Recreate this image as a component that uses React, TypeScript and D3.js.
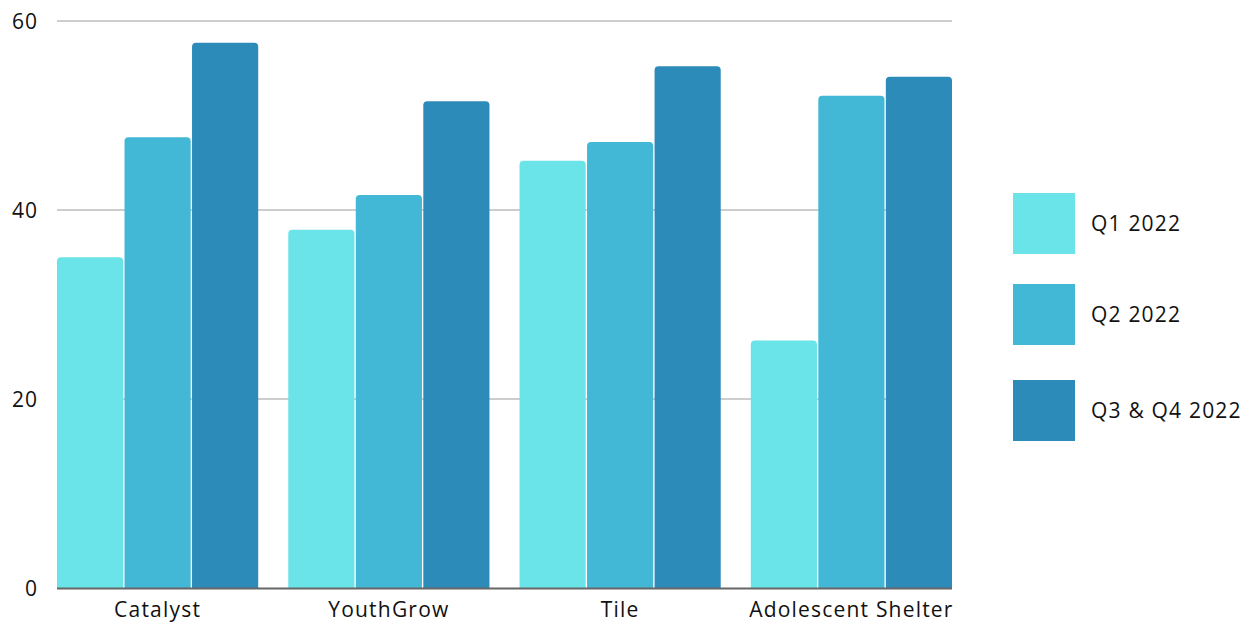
import React, { useRef, useEffect } from 'react';
import * as d3 from 'd3';

const categories = ['Catalyst', 'YouthGrow', 'Tile', 'Adolescent Shelter'];
const seriesNames = ['Q1 2022', 'Q2 2022', 'Q3 & Q4 2022'];
const q1Values = [35, 37.9, 45.2, 26.2];
const q2Values = [47.7, 41.6, 47.2, 52.1];
const q3q4Values = [57.7, 51.5, 55.2, 54.1];
const colors = ['#6ae4e8', '#42b7d6', '#2d8bb9'];
const yTicks = [0, 20, 40, 60];

const W = 1254;
const H = 623;

const App = () => {
  const ref = useRef<SVGSVGElement>(null);

  useEffect(() => {
    const svg = d3.select(ref.current);
    svg.selectAll('*').remove();

    const left = 57, right = 952, top = 21, bottom = 588;
    const series = [q1Values, q2Values, q3q4Values];

    const x0 = d3.scaleBand().domain(categories).range([left, right]).paddingInner(0.13).paddingOuter(0);
    const x1 = d3.scaleBand().domain(seriesNames).range([0, x0.bandwidth()]).paddingInner(0.02);
    const y = d3.scaleLinear().domain([0, 60]).range([bottom, top]);

    // grid
    svg.append('g')
      .selectAll('line')
      .data(yTicks.filter(t => t > 0))
      .join('line')
      .attr('x1', left).attr('x2', right)
      .attr('y1', d => y(d)).attr('y2', d => y(d))
      .attr('stroke', '#bdbdbd').attr('stroke-width', 1.5);

    svg.append('g')
      .selectAll('text')
      .data(yTicks)
      .join('text')
      .attr('x', 38).attr('y', d => y(d))
      .attr('dy', '0.36em')
      .attr('text-anchor', 'end')
      .attr('font-family', '"Open Sans", sans-serif')
      .attr('font-size', 21)
      .attr('letter-spacing', 1)
      .attr('fill', '#111')
      .text(d => d);

    const r = 4;
    const barPath = (x: number, yt: number, w: number, yb: number) => {
      const rr = Math.min(r, (yb - yt) / 2);
      return `M${x},${yb}V${yt + rr}Q${x},${yt} ${x + rr},${yt}H${x + w - rr}Q${x + w},${yt} ${x + w},${yt + rr}V${yb}Z`;
    };

    categories.forEach((cat, ci) => {
      seriesNames.forEach((s, si) => {
        const bx = (x0(cat) as number) + (x1(s) as number);
        svg.append('path')
          .attr('d', barPath(bx, y(series[si][ci]), x1.bandwidth(), bottom))
          .attr('fill', colors[si]);
      });
    });

    // baseline
    svg.append('line')
      .attr('x1', left).attr('x2', right)
      .attr('y1', bottom + 0.5).attr('y2', bottom + 0.5)
      .attr('stroke', '#666').attr('stroke-width', 2);

    svg.append('g')
      .selectAll('text')
      .data(categories)
      .join('text')
      .attr('x', d => (x0(d) as number) + x0.bandwidth() / 2)
      .attr('y', 617)
      .attr('text-anchor', 'middle')
      .attr('font-family', '"Open Sans", sans-serif')
      .attr('font-size', 21)
      .attr('letter-spacing', 1.2)
      .attr('fill', '#111')
      .text(d => d);

    // legend
    const legendY = [193, 284, 380];
    const lg = svg.append('g');
    seriesNames.forEach((s, i) => {
      lg.append('rect')
        .attr('x', 1013).attr('y', legendY[i])
        .attr('width', 62).attr('height', 61)
        .attr('fill', colors[i]);
      lg.append('text')
        .attr('x', 1091).attr('y', legendY[i] + 30)
        .attr('dy', '0.36em')
        .attr('font-family', '"Open Sans", sans-serif')
        .attr('font-weight', 500)
        .attr('font-size', 21)
        .attr('letter-spacing', 1.2)
        .attr('fill', '#111')
        .text(s);
    });
  }, []);

  return (
    <svg ref={ref} width={W} height={H} style={{ position: 'absolute', left: 0, top: 0, background: '#fff' }} />
  );
};

export default App;
